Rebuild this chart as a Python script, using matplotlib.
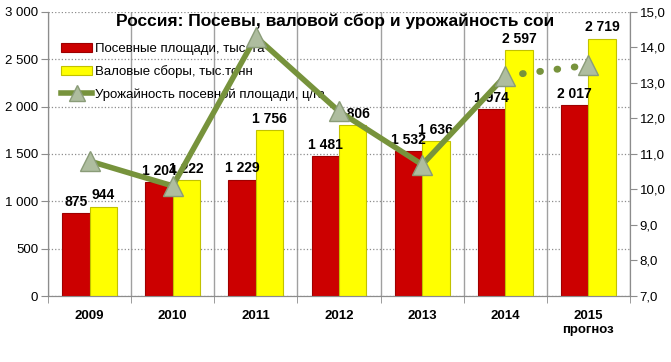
import numpy as np
import matplotlib
matplotlib.use('Agg')
import matplotlib.pyplot as plt
from matplotlib.ticker import FuncFormatter, FixedLocator

plt.rcParams['font.family'] = ['Liberation Sans', 'DejaVu Sans']

years = ['2009', '2010', '2011', '2012', '2013', '2014', '2015\nпрогноз']
area = [875, 1204, 1229, 1481, 1532, 1974, 2017]
harvest = [944, 1222, 1756, 1806, 1636, 2597, 2719]
yield_ = [10.8, 10.1, 14.3, 12.2, 10.7, 13.2, 13.5]

labels = ['Посевные площади, тыс. га', 'Валовые сборы, тыс.тонн',
          'Урожайность посевной площади, ц/га']
title = 'Россия: Посевы, валовой сбор и урожайность сои'

red = '#CC0000'
yellow = '#FFFF00'
green = '#77933C'
grey = '#8C8C8C'


def thousands(v, pos=None):
    return f'{int(v):,}'.replace(',', ' ')


fig = plt.figure(figsize=(6.71, 3.62), dpi=100)
ax = fig.add_axes([0.0715, 0.1823, 0.8675, 0.7847])
ax2 = ax.twinx()

x = np.arange(len(years))
w = 0.33
b1 = ax.bar(x - w / 2, area, w, color=red, edgecolor='#9E0000', linewidth=0.8,
            label=labels[0], zorder=3)
b2 = ax.bar(x + w / 2, harvest, w, color=yellow, edgecolor='#C2C200', linewidth=0.8,
            label=labels[1], zorder=3)

for rects, vals in ((b1, area), (b2, harvest)):
    for r, v in zip(rects, vals):
        ax.annotate(thousands(v), (r.get_x() + r.get_width() / 2, v),
                    xytext=(0, 3), textcoords='offset points',
                    ha='center', va='bottom', fontsize=10, fontweight='bold', zorder=4)

ax.set_xlim(-0.5, len(years) - 0.5)
ax.set_ylim(0, 3000)
ax.set_yticks(np.arange(0, 3001, 500))
ax.yaxis.set_major_formatter(FuncFormatter(thousands))
ax.grid(axis='y', color=grey, linestyle=':', linewidth=0.9, zorder=0)

# category boundaries: vertical lines and ticks
bounds = np.arange(-0.5, len(years), 1.0)
for b in bounds:
    ax.axvline(b, color='#A0A0A0', linewidth=1.0, zorder=1)
ax.set_xticks(x)
ax.set_xticklabels(years, fontsize=9.5, fontweight='bold')
ax.xaxis.set_minor_locator(FixedLocator(bounds))
ax.tick_params(axis='x', which='major', length=0, pad=10)
ax.tick_params(axis='x', which='minor', length=5, color=grey)
ax.tick_params(axis='y', length=5, color=grey, labelsize=9.5, pad=2)

ax.spines['top'].set_visible(False)
ax2.spines['top'].set_visible(False)
for a in (ax, ax2):
    for s in ('left', 'right', 'bottom'):
        a.spines[s].set_color(grey)

ax2.set_ylim(7, 15)
ax2.set_yticks(np.arange(7, 15.1, 1))
ax2.yaxis.set_major_formatter(FuncFormatter(lambda v, p: f'{v:.1f}'.replace('.', ',')))
ax2.tick_params(axis='y', length=5, color=grey, labelsize=9.5, pad=2)

ax2.plot(x[:6], yield_[:6], color=green, linewidth=4, solid_capstyle='round', zorder=3)
ax2.plot(x[5:], yield_[5:], color=green, linewidth=5, linestyle=(0, (0.1, 2.4)),
         dash_capstyle='round', zorder=3)
ax2.plot(x, yield_, linestyle='none', marker='^', markersize=14,
         markerfacecolor='#AEBD9F', markeredgecolor='#8A9C78', zorder=4)

line_handle = plt.Line2D([], [], color=green, linewidth=4, marker='^', markersize=11,
                         markerfacecolor='#AEBD9F', markeredgecolor='#8A9C78')
ax.legend([b1, b2, line_handle], labels, loc='upper left',
          bbox_to_anchor=(0.022, 0.89), frameon=False, fontsize=9.5,
          handlelength=2.4, handleheight=0.7, handletextpad=0.2,
          labelspacing=0.75, borderaxespad=0, borderpad=0)

fig.text(0.5, 0.942, title, ha='center', va='center', fontsize=12.5, fontweight='bold')

fig.savefig('out.png', dpi=100)
